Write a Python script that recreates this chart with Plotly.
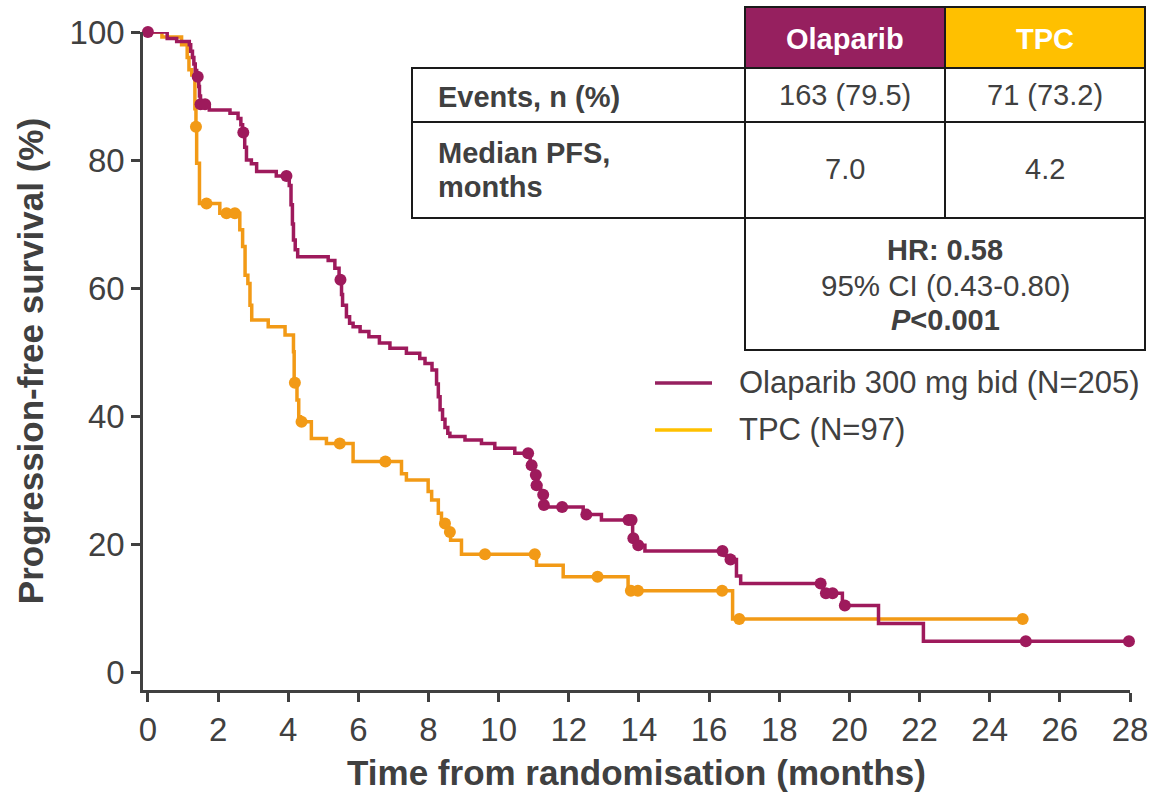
import plotly.graph_objects as go

# ---------------- data ----------------
ola_time = [0, 0.55, 0.82, 1.18, 1.22, 1.27, 1.31, 1.35, 1.39, 1.45, 1.47, 1.50, 1.75, 2.34,
            2.57, 2.65, 2.70, 2.76, 2.81, 2.95, 3.10, 3.66, 4.03, 4.08, 4.12, 4.15, 4.20,
            4.27, 5.14, 5.33, 5.45, 5.52, 5.55, 5.66, 5.75, 5.85, 6.05, 6.30, 6.60, 6.90,
            7.37, 7.75, 7.90, 8.10, 8.23, 8.28, 8.33, 8.40, 8.47, 8.55, 8.61, 9.04, 9.51,
            9.89, 10.46, 10.90, 11.00, 11.07, 11.20, 11.28, 11.35, 12.41, 12.93, 13.82,
            13.92, 14.17, 16.45, 16.60, 16.78, 16.90, 19.25, 19.80, 20.83, 22.11, 27.97]
ola_surv = [100, 99.0, 98.5, 98.0, 97.0, 96.0, 95.0, 94.0, 93.0, 91.5, 90.0, 88.7, 87.8, 87.3,
            86.5, 85.5, 84.3, 82.0, 80.0, 79.4, 78.2, 77.5, 76.0, 73.0, 70.0, 67.5, 66.0,
            64.9, 64.3, 63.1, 61.3, 59.0, 57.3, 55.5, 54.5, 53.95, 53.2, 52.4, 51.4, 50.6,
            49.8, 49.0, 48.2, 47.2, 45.0, 43.0, 41.0, 39.5, 38.2, 37.3, 36.8, 36.25, 35.7,
            34.95, 34.2, 32.3, 30.8, 29.2, 27.7, 26.1, 25.8, 24.6, 23.75, 20.9,
            19.8, 18.9, 18.2, 17.6, 15.0, 13.85, 12.3, 10.4, 7.6, 4.8, 4.8]
ola_censor = [0.0, 1.42, 1.50, 1.63, 2.72, 3.95, 5.49, 10.84, 10.94, 11.06, 11.08, 11.27,
              11.29, 11.81, 12.50, 13.70, 13.79, 13.84, 13.98, 16.38, 16.61, 19.18, 19.33,
              19.52, 19.87, 25.03, 27.97]

tpc_time = [0, 0.40, 0.96, 1.12, 1.17, 1.25, 1.34, 1.37, 1.39, 1.47, 2.05, 2.62, 2.70, 2.77,
            2.85, 2.91, 2.96, 3.43, 3.91, 4.15, 4.17, 4.25, 4.30, 4.35, 4.66, 5.09, 5.85,
            7.23, 7.37, 7.99, 8.09, 8.28, 8.37, 8.55, 8.63, 8.94, 11.08, 11.84, 13.69,
            16.67, 24.94]
tpc_surv = [100, 99.2, 98.0, 96.0, 94.1, 93.3, 88.0, 85.2, 79.5, 73.2, 71.7, 69.1, 66.5, 62.0,
            60.7, 57.3, 55.0, 53.95, 52.65, 50.05, 45.2, 42.5, 39.9, 39.1, 36.5, 35.7, 32.9,
            31.0, 30.0, 28.2, 26.9, 24.8, 23.2, 21.9, 20.6, 18.4, 16.7, 14.9, 12.7,
            8.3, 8.3]
tpc_censor = [1.37, 1.67, 2.24, 2.48, 4.19, 4.38, 5.47, 6.77, 8.47, 8.61, 9.61, 11.03, 12.82,
              13.77, 13.97, 16.37, 16.86, 24.94]

x_ticks = [0, 2, 4, 6, 8, 10, 12, 14, 16, 18, 20, 22, 24, 26, 28]
y_ticks = [0, 20, 40, 60, 80, 100]

series_names = ["Olaparib 300 mg bid (N=205)", "TPC (N=97)"]
table_header = ["Olaparib", "TPC"]
row_events = "Events, n (%)"
row_median = ["Median PFS,", "months"]
table_ola = ["163 (79.5)", "7.0"]
table_tpc = ["71 (73.2)", "4.2"]
hr_text = ["HR: 0.58", "95% CI (0.43-0.80)", "P", "<0.001"]

# ---------------- style ----------------
OLA_C = "#9E1A5C"
TPC_C = "#F29A16"
OLA_LEG = "#96205F"
TPC_LEG = "#FFC000"
GREY = "#404040"
FONT = "Arial, Liberation Sans, sans-serif"


def step_value(times, surv, t):
    v = surv[0]
    for ti, si in zip(times, surv):
        if ti <= t:
            v = si
    return v


fig = go.Figure()
fig.add_trace(go.Scatter(x=tpc_time, y=tpc_surv, mode="lines", name=series_names[1],
                         line=dict(color=TPC_C, width=3.5, shape="hv"),
                         showlegend=False, cliponaxis=False, hoverinfo="skip"))
fig.add_trace(go.Scatter(x=tpc_censor, y=[step_value(tpc_time, tpc_surv, t) for t in tpc_censor],
                         mode="markers", marker=dict(color=TPC_C, size=12), showlegend=False,
                         cliponaxis=False))
fig.add_trace(go.Scatter(x=ola_time, y=ola_surv, mode="lines", name=series_names[0],
                         line=dict(color=OLA_C, width=3.5, shape="hv"),
                         showlegend=False, cliponaxis=False, hoverinfo="skip"))
fig.add_trace(go.Scatter(x=ola_censor, y=[step_value(ola_time, ola_surv, t) for t in ola_censor],
                         mode="markers", marker=dict(color=OLA_C, size=12), showlegend=False,
                         cliponaxis=False))

# pixel -> paper helpers
L, R, T, B = 143, 1130, 32, 690
W, H = R - L, B - T


def px(X):
    return (X - L) / W


def py(Y):
    return (B - Y) / H


shapes = []
LINE = dict(color="#1a1a1a", width=2)


def rect(x0, x1, y0, y1, fill):
    shapes.append(dict(type="rect", xref="paper", yref="paper", x0=px(x0), x1=px(x1),
                       y0=py(y1), y1=py(y0), fillcolor=fill, line=LINE, layer="above"))


def seg(x0, x1, y0, y1, line=LINE):
    shapes.append(dict(type="line", xref="paper", yref="paper", x0=px(x0), x1=px(x1),
                       y0=py(y0), y1=py(y1), line=line, layer="above"))


rect(745, 945, 7, 68, OLA_LEG)
rect(945, 1145, 7, 68, TPC_LEG)
rect(412, 1145, 68, 218, "white")
seg(412, 1145, 122, 122)
seg(745, 745, 68, 218)
seg(945, 945, 68, 218)
rect(745, 1145, 218, 350, "white")

# manual legend lines
seg(655, 712, 383, 383, dict(color=OLA_LEG, width=3.5))
seg(655, 712, 430, 430, dict(color=TPC_LEG, width=3.5))

ann = []
TF = 29


def add_text(text, X, Y, size=TF, color=GREY, xanchor="center", bold=False):
    ann.append(dict(text=("<b>%s</b>" % text) if bold else text, xref="paper", yref="paper",
                    x=px(X), y=py(Y), xanchor=xanchor, yanchor="middle", showarrow=False,
                    font=dict(family=FONT, size=size, color=color)))


add_text(table_header[0], 845, 39, color="white", bold=True)
add_text(table_header[1], 1045, 39, color="white", bold=True)
add_text(row_events, 436, 97, xanchor="left", bold=True)
add_text(row_median[0], 436, 153, xanchor="left", bold=True)
add_text(row_median[1], 436, 187, xanchor="left", bold=True)
add_text(table_ola[0], 845, 95)
add_text(table_tpc[0], 1045, 95)
add_text(table_ola[1], 845, 169)
add_text(table_tpc[1], 1045, 169)
add_text(hr_text[0], 945, 250, bold=True)
add_text(hr_text[1], 945, 285, size=29.5)
add_text("<i>%s</i>%s" % (hr_text[2], hr_text[3].replace("<", "&lt;")), 945, 320, bold=True)

# legend text
add_text(series_names[0], 737, 382, size=31, xanchor="left")
add_text(series_names[1], 737, 429, size=31, xanchor="left")

fig.update_layout(
    width=1157, height=792,
    margin=dict(l=L, r=1157 - R, t=T, b=792 - B, autoexpand=False),
    paper_bgcolor="white", plot_bgcolor="white",
    font=dict(family=FONT, color=GREY, size=28),
    showlegend=False,
    xaxis=dict(range=[-0.14, 28], tickvals=x_ticks, ticks="outside", ticklen=9, tickwidth=2.5,
               tickcolor=GREY, showline=True, linecolor=GREY, linewidth=2.5, showgrid=False,
               zeroline=False, automargin=False,
               tickfont=dict(size=33, color=GREY, family=FONT),
               title=dict(text="<b>Time from randomisation (months)</b>",
                          font=dict(size=35, color=GREY), standoff=18)),
    yaxis=dict(range=[-2.8, 100], tickvals=y_ticks, ticks="outside", ticklen=9, tickwidth=2.5,
               tickcolor=GREY, showline=True, linecolor=GREY, linewidth=2.5, showgrid=False,
               zeroline=False, automargin=False,
               tickfont=dict(size=33, color=GREY, family=FONT),
               title=dict(text="<b>Progression-free survival (%)</b>",
                          font=dict(size=35, color=GREY), standoff=16)),
    shapes=shapes, annotations=ann,
)

fig.write_html("out.html")
